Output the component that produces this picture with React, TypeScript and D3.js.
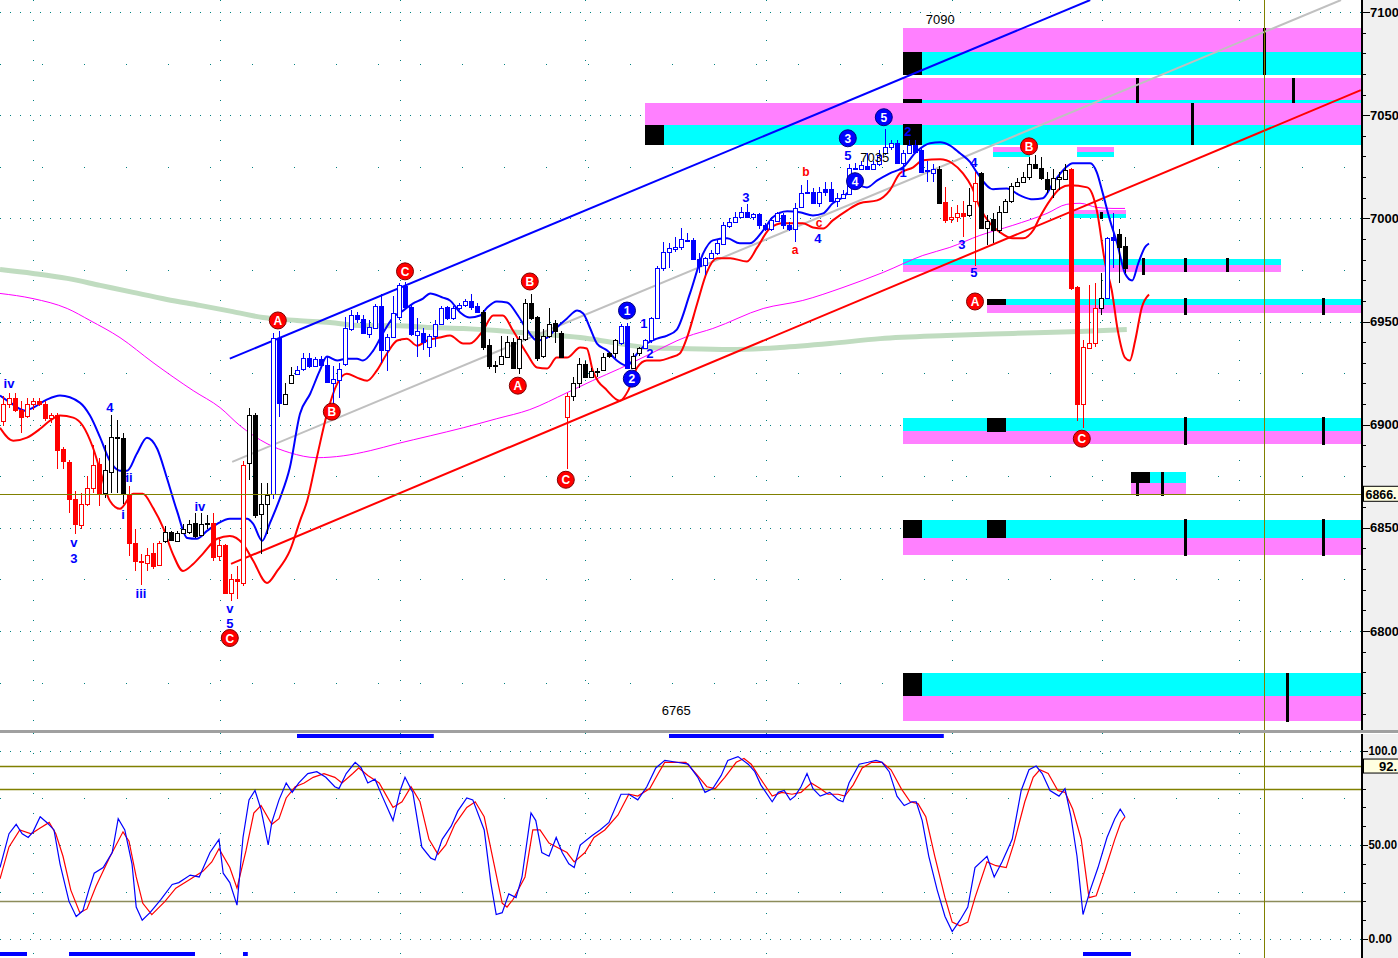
import React from 'react';
import * as d3 from 'd3';

// ---------------- DATA ----------------
// OHLC per bar (bar index = position in array)
const candles: [number, number, number, number][] = [
  [6902,6914,6899.5,6910],[6910,6915.5,6908,6913],[6913,6915.5,6906,6907],[6907,6911.5,6896,6903.5],[6904,6913,6903,6910],
  [6910,6913,6907,6911.5],[6911.5,6913,6909,6910],[6910,6911.5,6902,6903],[6903,6905.5,6901,6904.5],[6904.5,6905.5,6878.5,6887.5],
  // 10
  [6888,6889,6878.5,6882.5],[6882,6883,6857,6864],[6864,6868,6847,6852],[6851.5,6867,6849.5,6861.5],[6861.5,6875,6860.5,6869.5],
  [6869.5,6890,6867,6880.5],[6881,6884,6860.5,6867],[6867,6890,6864.5,6878],[6877,6904.5,6867,6894],[6894,6902.5,6867,6893.5],
  // 20
  [6893.5,6896,6861.5,6866.5],[6866.5,6870.5,6836.5,6842.5],[6842.5,6849.5,6829,6834],[6834,6837.5,6822.5,6833.5],[6833,6840,6829,6837],
  [6838,6842.5,6830,6831.5],[6832,6843.5,6831.5,6842.5],[6843.5,6851,6842.5,6848],[6848,6848.5,6843.5,6844],[6843.5,6848.5,6843,6847.5],
  // 30
  [6847.5,6852,6847,6849.5],[6848,6854,6847,6852],[6852.5,6857,6845,6846],[6846.5,6857,6846,6852],[6852.5,6856,6849.5,6852],
  [6852.5,6857,6834,6836],[6836.5,6844.5,6834,6841.5],[6841.5,6842,6818,6818.5],[6818.5,6827.5,6814.5,6825],[6825,6831.5,6815.5,6824],
  // 40
  [6823.5,6882.5,6822,6880.5],[6881.5,6908,6873,6904.5],[6904.5,6905.5,6855,6856],[6856.5,6871.5,6837.5,6861.5],[6861.5,6871.5,6847,6866],
  [6866.5,6944.5,6864,6942],[6942,6945.5,6903.5,6910.5],[6910,6920,6909.5,6915],[6920,6928,6919.5,6924],[6924.5,6928.5,6924,6926.5],
  // 50
  [6927,6934.5,6926,6932.5],[6932.5,6934.5,6927.5,6928.5],[6928.5,6933,6928,6932],[6932,6933.5,6928.5,6929],[6929,6933,6920,6920.5],
  [6920,6928.5,6910.5,6922],[6921.5,6930,6913,6927],[6929.5,6952,6928.5,6947],[6946.5,6955.5,6945.5,6953],[6953,6954.5,6949.5,6951],
  // 60
  [6951,6953,6944,6944.5],[6944,6950.5,6942,6947.5],[6947,6958.5,6946.5,6957.5],[6957.5,6963.5,6930,6936],[6936,6944,6926,6942.5],
  [6942.5,6962.5,6942,6954],[6952,6968.5,6950.5,6967.5],[6967,6969,6956.5,6957],[6957,6958,6943,6944],[6943.5,6951.5,6933,6945.5],
  // 70
  [6944.5,6947,6936,6940],[6937.5,6944,6933,6943],[6943,6950.5,6937.5,6949],[6949,6957.5,6948.5,6956.5],[6957,6957.5,6950.5,6951.5],
  [6951.5,6957.5,6950.5,6956.5],[6956.5,6959,6955.5,6958],[6958,6961,6957,6960],[6960,6963.5,6955.5,6957],[6957.5,6959,6954,6954.5],
  // 80
  [6954.5,6955.5,6936,6937.5],[6938.5,6941.5,6927,6928.5],[6929,6931,6925,6928.5],[6929.5,6943,6929,6933.5],[6933,6943,6932.5,6940],
  [6940,6942,6927,6927.5],[6927.5,6943,6924.5,6941.5],[6941.5,6961,6940.5,6959],[6959,6963.5,6950.5,6951.5],[6952,6952.5,6931,6932.5],
  // 90
  [6933.5,6946.5,6932.5,6943],[6943,6956.5,6942,6949],[6949.5,6950.5,6939.5,6945.5],[6944.5,6945.5,6932.5,6933],[6903.5,6915.5,6878.5,6914],
  [6914,6923,6911.5,6920],[6920,6932.5,6918,6929.5],[6929.5,6931,6922.5,6923],[6923,6927.5,6922.5,6926],[6926,6927.5,6923,6926],
  // 100
  [6926.5,6934.5,6926,6933],[6934.5,6935,6932.5,6933.5],[6934.5,6941.5,6932.5,6941],[6939.5,6949,6938.5,6948],[6948,6949.5,6927,6927.5],
  [6927.5,6934.5,6927,6933.5],[6934.5,6937.5,6933.5,6937],[6937,6941.5,6936.5,6941],[6941,6952,6939.5,6951.5],[6951.5,6977,6951,6976],
  // 110
  [6976,6988.5,6974.5,6983.5],[6983.5,6988,6976,6985.5],[6985,6991,6983.5,6986],[6986,6995.5,6984.5,6990],[6989.5,6993,6988.5,6989],
  [6989.5,6990.5,6980,6980.5],[6980.5,6983,6973.5,6977],[6977.5,6981.5,6972.5,6981],[6981,6984.5,6980.5,6983],[6983,6989.5,6982,6988],
  // 120
  [6987.5,6998,6987,6997],[6996.5,7000,6995.5,6998],[6998,7003,6997.5,7000.5],[7000.5,7005.5,7000,7003],[7003,7007,7000,7000.5],
  [7000.5,7002.5,6999,7002],[7002,7002.5,6995,6997],[6997,6997.5,6994,6995],[6995,7000.5,6994,6999],[6998.5,7003,6998,7002.5],
  // 130
  [7001.5,7002.5,6995,6997],[6997,6998,6994,6995],[6995,7007.5,6988.5,7005],[7005.5,7016,7005,7012.5],[7013,7018.5,7012,7012.5],
  [7013,7014.5,7007,7007.5],[7007.5,7015,7005.5,7013],[7014,7017.5,7011,7013],[7014,7017.5,7008,7008.5],[7008.5,7012.5,7005.5,7010],
  // 140
  [7010,7013.5,7009.5,7012],[7012,7026.5,7011.5,7024.5],[7024.5,7027,7023.5,7024],[7024,7028,7023.5,7026],[7025.5,7031.5,7023.5,7024],
  [7024,7028,7023.5,7026.5],[7026.5,7033,7025.5,7030.5],[7031.5,7043.5,7030.5,7034.5],[7034.5,7038,7033,7036.5],[7036.5,7038,7026.5,7027],
  // 150
  [7027,7033,7024.5,7031.5],[7031.5,7038,7031,7035.5],[7035.5,7038,7031.5,7032],[7033,7034.5,7022,7022.5],[7023.5,7028,7017.5,7023],
  [7022,7026.5,7017.5,7024],[7024,7025.5,7007,7007.5],[7008,7015,6997.5,6999],[6999.5,7005.5,6997.5,7000.5],[7000.5,7006.5,6998,7002.5],
  // 160
  [7002.5,7008.5,6991,7001],[7001.5,7014.5,7000.5,7006.5],[7008.5,7022.5,6977,7017],[7022,7022.5,6995,6995.5],[6995.5,7001.5,6987,6998.5],
  [6999.5,7002.5,6988,6994.5],[6994.5,7006,6993,7003],[7003,7009.5,7002.5,7008.5],[7008.5,7017,7007.5,7015.5],[7015.5,7019.5,7015,7017.5],
  // 170
  [7017.5,7022.5,7017,7020],[7020,7029.5,7018.5,7026.5],[7026.5,7030.5,7024,7024.5],[7024.5,7029.5,7018.5,7019.5],[7019,7022.5,7012.5,7014],
  [7014,7024,7010,7019.5],[7019,7022.5,7013.5,7020],[7019,7026.5,7018.5,7023.5],[7024,7024.5,6965.5,6966],[6966.5,6967,6902,6910],
  // 180
  [6910,6941,6898.5,6937.5],[6937,6967.5,6936.5,6939.5],[6939.5,6968.5,6937.5,6956.5],[6956.5,6973.5,6953,6961.5],[6961.5,6991,6961,6990.5],
  [6991,7002.5,6976,6989.5],[6992.5,6995,6968.5,6986],[6986.5,6991,6973.5,6976],
];

// wave-degree colour code per bar, run-length encoded
const waveRuns: [string, number][] = [
  ['r',17],['k',4],['r',6],['k',8],['r',6],['k',4],['b',2],['k',2],['b',31],['k',14],['r',1],['k',8],
  ['b',2],['k',2],['b',49],['k',1],['r',4],['k',1],['r',1],['k',15],['r',5],['k',1],['b',2],['k',2],
];

// upper (blue) and lower (red) envelope lines: [bar, price]
const upperLine: [number, number][] = [
  [-0.5,6914.1],[1.2,6910.7],[3.7,6906.8],[5,6908.2],[7.3,6912.1],[9.5,6914.1],[12.8,6910.7],[14.5,6904.4],[16.2,6893.7],[17.8,6882.5],
  [19.5,6877.7],[20.7,6877.7],[22.3,6885.9],[24,6893.7],[25.7,6888.3],[27.3,6874.3],[29,6858.2],[30.7,6845.1],[32.3,6844.7],[34,6848.5],
  [35.7,6851.9],[37.8,6854.4],[40.7,6854.4],[41.7,6851.9],[43.2,6843.7],[44.5,6852.4],[46.2,6864.6],[47.8,6879.1],[49.5,6905.3],[51.2,6915],
  [52.8,6926.2],[54,6933],[55.7,6931.1],[57.3,6932],[59,6932],[60,6931.1],[61.7,6935.9],[63.3,6944.2],[65,6951.9],[66.7,6955.3],
  [68.3,6958.7],[70,6961.1],[71.2,6963.6],[73.3,6961.6],[74.5,6960.2],[76.2,6954.4],[77.8,6951.9],[79.5,6952.9],[80.7,6956.8],[82.3,6959.7],
  [84,6959.2],[85.7,6953.4],[87.3,6946.1],[89,6940.8],[90.7,6942.2],[92.3,6947.1],[94,6951.5],[95.7,6955.3],[96.7,6953.9],[97.8,6947.1],
  [99,6939.3],[100.7,6935.9],[102.3,6931.1],[104,6928.6],[105.7,6934.5],[107.3,6939.3],[109,6941.7],[110.7,6943.2],[112.3,6946.1],[114.5,6963.6],
  [116.7,6983],[118.3,6989.3],[120.7,6990.3],[122.8,6987.9],[124.5,6987.9],[126.7,6994.2],[128.3,7000.5],[130.7,7003.4],[132.8,7002.9],[135,7001.4],
  [136.7,7002.4],[138.3,7007.3],[140,7010.2],[142.3,7016],[144,7015],[145.7,7018.4],[147.8,7021.8],[150,7024.7],[152.3,7032.5],[154.5,7036.4],
  [156.2,7036.9],[157.8,7035.4],[159.5,7031.5],[161.2,7027.2],[162.3,7022.3],[165,7014.1],[167.3,7014.5],[169.5,7011.1],[171.7,7009.2],[173.3,7009.7],
  [175,7017],[177,7024.3],[178.3,7026.7],[181.2,7026.7],[182.3,7022.3],[183.3,7012.1],[184.5,6999],[185.7,6987.8],[187,6973.3],[188.2,6969.9],
  [189.2,6978.1],[190.3,6985.9],[191,6987.8],
];
const lowerLine: [number, number][] = [
  [-0.5,6898.5],[1.7,6892.2],[4,6893.7],[6.2,6898],[7.8,6901.9],[9.5,6904.4],[11.7,6903.4],[13.3,6899.5],[15,6888.8],[16.2,6877.7],
  [17.8,6863.1],[19.5,6859.2],[21.7,6866.5],[23.3,6866.5],[25,6859.7],[26.7,6850],[28.3,6837.4],[30,6829.1],[31.7,6832.5],[33.3,6837.4],
  [35.7,6844.7],[37.8,6846.1],[40,6842.2],[41.7,6834],[44,6823.3],[45.7,6829.1],[47.8,6838.8],[49.5,6853.4],[50.7,6863.1],[52.3,6884],
  [54,6905.3],[55.7,6919.9],[57.3,6924.7],[59,6922.8],[60.7,6921.3],[62.3,6926.2],[64,6934.5],[65.7,6940.8],[67.3,6941.7],[69,6938.3],
  [70.7,6940.8],[72.8,6942.2],[74.5,6943.2],[76.7,6939.3],[77.8,6939.3],[80,6945.6],[81.7,6952.9],[83.3,6952.9],[85,6945.6],[87.3,6934.5],
  [89,6927.7],[90.7,6927.2],[92.3,6932.5],[94,6932.5],[96.2,6937.4],[97.3,6936.9],[98.3,6926.2],[100.7,6916.5],[102.8,6911.6],[104.2,6916.5],
  [105.7,6927.7],[107.3,6931.1],[109.5,6931.1],[111.2,6932.5],[112.8,6934.5],[114,6942.2],[115.7,6958.7],[117.3,6973.8],[119,6980.6],[121.2,6980.6],
  [124,6979.1],[125.7,6985.9],[127.8,6995.1],[130,6997.6],[133.3,6997.6],[135,6995.6],[136.7,6995.1],[138.3,6999],[140.7,7003.9],[142.8,7007.3],
  [145.7,7008.7],[147.8,7013.6],[149.5,7021.8],[151.7,7024.7],[153.3,7028.1],[156.2,7028.6],[158.2,7026.7],[160,7021.8],[161.5,7015],[162.8,7005.3],
  [164.5,6997.6],[166.2,6993.2],[168.3,6990.3],[170,6990.3],[171.7,6994.2],[172.8,7000.5],[174.5,7008.7],[176.2,7014.5],[177.8,7016],[180.7,7015],
  [181.5,7012.1],[182.3,7003.9],[183.7,6978.1],[184.8,6965],[185.8,6945.6],[187,6932.5],[187.8,6931.1],[188.7,6940.8],[189.8,6956.8],[191,6963.1],
];
// thin magenta moving average
const maFast: [number, number][] = [
  [-0.5,6963.6],[5,6961.1],[10.7,6956.3],[14.5,6950.5],[19.5,6942.2],[25,6930.1],[31.7,6916.5],[36.2,6908.2],[39.5,6899.5],[44,6890.8],
  [47.8,6886.4],[52.3,6884],[56.7,6884.9],[61.2,6887.4],[65.7,6890.8],[71.2,6894.6],[76.7,6898.5],[82.3,6902.9],[87.8,6907.3],[94,6915.5],
  [98.3,6921.4],[102.8,6927.2],[107.3,6933.5],[114,6942.7],[118.3,6946.6],[126.7,6956.3],[133.3,6960.2],[140,6966.5],[146.7,6973.8],[153.3,6982],
  [157.8,6985.9],[162.8,6991.7],[168.3,6996.6],[174,7002.4],[177.3,7006.8],[179.5,7007.3],[182.3,7005.3],[185,7004.8],[187,7004.8],
];
// thick light-green long moving average
const maSlow: [number, number][] = [
  [-0.5,6975.2],[5,6973.3],[10.7,6970.9],[16.2,6967.5],[21.7,6964.1],[27.3,6960.7],[32.8,6957.8],[38.3,6954.8],[43.3,6951.9],[49,6950.5],
  [54.5,6949.5],[60,6948],[65.7,6948],[71.2,6947.1],[76.7,6946.6],[82.3,6945.6],[87.8,6944.2],[96.2,6942.2],[101.7,6939.8],[107.3,6937.4],
  [112.8,6936.9],[121.2,6936.4],[129.5,6937.4],[137.8,6939.3],[146.2,6941.7],[157.3,6943.2],[168.3,6944.2],[179.5,6945.2],[187.3,6946.1],
];

// straight trend lines: [[bar, price], [bar, price]]
const channelTop: [number, number][] = [[37.8,6932],[181.2,7105.8]];
const channelMid: [number, number][] = [[38.2,6882],[223,7105.8]];
const channelBot: [number, number][] = [[38,6832.5],[226.3,7062.1]];

// price zones: [fromBar, toBar, top, mid, bottom, magentaOnTop]
const zones: [number, number, number, number, number, boolean][] = [
  [150,227,7092.2,7080.6,7069.4,true],
  [150,227,7067.9,7057.3,7055.8,true],
  [107,227,7055.8,7045.1,7035.4,true],
  [165,171.2,7034.4,7032,7029.6,true],
  [179,185.2,7034.4,7032,7029.6,true],
  [178.3,187.2,7004,7002,7000,true],
  [150,213,6980.1,6977.2,6974,false],
  [164,227,6961.1,6957.8,6953.9,false],
  [150,227,6903.4,6897.1,6890.8,false],
  [188,197.2,6877.2,6871.8,6866.5,false],
  [150,227,6853.9,6845.1,6836.9,false],
  [150,227,6779.6,6768.4,6756.3,false],
];
// zone start blocks: [fromBar, toBar, hi, lo]
const zoneBlocks: [number, number, number, number][] = [
  [150,153.2,7080.6,7069.4],[150,153.2,7057.8,7055.8],[107,110.2,7045.1,7035.4],[150,153.2,7045.6,7035.4],
  [164,167.2,6961.1,6957.8],[164,167.2,6903.4,6896.6],[188,191.2,6877.2,6871.5],[150,153.2,6853.9,6845.1],
  [164,167.2,6853.9,6845.1],[150,153.2,6779.6,6768.4],
];
// zone time markers: [bar, hi, lo]
const zoneMarks: [number, number, number][] = [
  [210.17,7092.2,7069.4],[189,7067.9,7055.8],[215,7067.9,7055.8],[198.17,7055.8,7035.4],[183,7003,6999.5],
  [190,6980.6,6972.5],[197,6980.6,6974],[204,6980.6,6974],[197,6961.6,6953],[220,6961.6,6953],
  [197,6903.9,6890.3],[220,6903.9,6890.3],[189,6871.8,6865.5],[193.17,6877.2,6865.5],[197,6854.4,6836.4],
  [220,6854.4,6836.4],[214,6779.6,6756],
];

// Elliott wave labels
const circleLabels: [string, string, number, number][] = [
  ['A','r',45.8,6950.5],['B','r',54.8,6906.3],['C','r',67,6974.3],['A','r',85.8,6918.9],['B','r',87.8,6969.4],
  ['C','r',93.8,6873.3],['C','r',37.8,6796.6],['A','r',162,6959.7],['B','r',171,7034.9],['C','r',179.8,6893.2],
  ['1','b',104,6955.3],['2','b',104.8,6922.3],['3','b',140.8,7038.8],['5','b',146.8,7049],['4','b',142,7018],
];
const waveTexts: [string, string, number, number][] = [
  ['iv','b',1,6919.9],['4','b',17.8,6908.2],['ii','b',21,6874.3],['i','b',20,6856.3],['v','b',11.8,6842.8],['3','b',11.8,6835],
  ['iii','b',23,6818],['iv','b',32.8,6860.2],['v','b',37.8,6810.8],['5','b',37.8,6803.4],['1','b',106.8,6949],['2','b',107.8,6934.5],
  ['3','b',123.8,7010.2],['4','b',135.8,6990],['5','b',140.8,7030.6],['1','b',150,7022.3],['2','b',150.8,7042.2],['4','b',161.8,7027.2],
  ['3','b',159.8,6987.4],['5','b',161.8,6973.8],['b','r',133.8,7022.3],['c','r',136,6997.6],['a','r',132,6984.5],
];
const priceNotes: [string, number, number][] = [['7090',156.2,7096.6],['7035',145.3,7029.6],['6765',112.2,6761.6]];

// stochastic %K (blue) and %D (red): [bar, value]
const stochK: [number, number][] = [
  [-0.5,38],[1,56],[2.2,61],[3.2,56],[4.2,54],[5,57],[6.2,65],[7.3,62],[8.5,58],[9.5,40],[11,20],[12.2,12],[13.3,15],[14.3,26],[15.2,35],
  [16.7,38],[18.2,46],[19.2,64],[20.3,58],[21.5,40],[22.2,17],[23.2,10],[24.5,14],[26.3,21],[28.2,29],[29.3,30],[31.2,34],[32.7,33],[34.5,46],
  [36,53],[36.7,35],[37.8,30],[39,18],[40,54],[41,74],[42,79],[43,69],[44.2,50],[44.8,62],[46,74],[47.2,83],[48.2,78],[49.3,83],[50.8,88],
  [52.3,89],[53.8,86],[55.3,81],[56,80],[57.2,88],[58.7,94],[59.7,91],[60.8,83],[62,85],[63.2,76],[65,63],[66.2,79],[67,86],[68.3,78],
  [69.8,49],[71.3,43],[72,42],[73.2,53],[74.7,60],[75.8,68],[77.3,75],[78.3,74],[80.2,58],[81.3,30],[82.2,13],[83.2,14],[84.3,24],[85.5,22],
  [86.5,33],[88,67],[88.8,63],[89.8,46],[91,44],[92.2,54],[93.2,46],[94.3,40],[95.2,38],[96.2,50],[98.2,55],[99.5,58],[101,62],[103,77],
  [104.3,77],[105.8,74],[107.3,81],[108.8,91],[110.3,95],[112.3,94],[114.2,93],[115.8,86],[117,78],[118.3,80],[119.7,87],[120.8,95],[122.5,97],
  [124.2,93],[125.3,89],[126.3,82],[128.2,73],[129.2,78],[130.2,79],[131.2,74],[132,76],[133,81],[134,88],[135,80],[136.2,76],[137.8,78],
  [139.2,74],[140,73],[141,83],[142.7,93],[144.2,94],[145.5,95],[146.5,94],[147.7,89],[149,76],[150.2,71],[151.5,73],[152.2,73],[153.2,63],
  [154.3,44],[155.7,26],[157,12],[158.2,4],[159.5,10],[160.8,17],[162,38],[164,44],[165.2,33],[166.5,41],[168.2,53],[169.7,79],[171,90],
  [172.2,92],[173.2,88],[174.5,79],[176,76],[177,80],[178,65],[179,44],[180,13],[181.2,26],[182.5,38],[184,54],[185.3,64],[186.2,69],[187,65],
];
const stochD: [number, number][] = [
  [-0.5,32],[1,49],[2.8,58],[4.7,56],[6.2,59],[7.7,62],[8.8,56],[10,44],[11.3,26],[12.8,14],[14,16],[15.5,28],[17.7,43],[20,57],[21,52],
  [22.2,33],[23.3,19],[24.8,13],[27,20],[28.8,27],[30.8,31],[33.3,36],[34.8,41],[36,48],[37.8,38],[39,27],[40.5,47],[41.8,67],[43,71],
  [44.8,61],[46,64],[47.2,75],[48.7,81],[50.2,83],[51.7,86],[53.5,88],[55.3,86],[56.5,83],[58.3,88],[59.3,91],[60.8,87],[62.7,83],[65,70],
  [66.5,73],[68,81],[69.5,73],[71,53],[72.5,45],[73.8,50],[75.3,61],[77.3,70],[78.7,73],[80.2,65],[81.7,42],[83.2,19],[84,17],[85,21],
  [87,33],[88.3,58],[89.5,58],[91,51],[92.8,48],[94,46],[95.2,41],[97,46],[98.5,54],[100.3,58],[102.5,66],[104.3,77],[105.8,76],[107.8,80],
  [109.2,88],[110.3,94],[112,94],[113.8,94],[115.5,88],[117.3,81],[118.7,80],[120.3,86],[122.2,94],[123.5,96],[124.7,93],[126.3,85],[128.2,76],
  [129.8,78],[131.5,77],[133,78],[134.7,83],[136.2,80],[137.5,77],[139.2,77],[140.3,76],[141.7,82],[143.2,91],[144.8,94],[146.5,94],[148,90],
  [149.7,80],[151.2,73],[152.5,72],[153.8,65],[155.3,44],[157,22],[158.2,9],[159.5,7],[160.8,9],[162,22],[164,41],[165.5,39],[167.2,38],
  [168.5,51],[170.3,73],[171.7,86],[172.8,90],[174.2,88],[175.8,79],[177,78],[178.3,69],[179.7,53],[181,22],[182.2,23],[183.7,37],[185.3,53],
  [186.3,62],[187,65],
];
// signal strips in the oscillator pane: [fromBar, toBar]
const stripsTop: [number, number][] = [[49,71.8],[111,156.8]];
const stripsBottom: [number, number][] = [[-0.5,4],[11,32],[40,40.8],[180,188]];

const priceTicks = [6800, 6850, 6900, 6950, 7000, 7050, 7100];
const oscTicks: [number, string][] = [[100,'100.0'],[50,'50.00'],[0,'0.00']];
const oscLevels = [92, 80, 20];
const gridBars = [5, 36.2, 66.2, 97, 127.2, 158.2, 183.2, 206];
const cursorBar = 210.17;
const cursorPrice = 6866.5;
const cursorOsc = 92;

// ---------------- CHART ----------------
const W = 1398, H = 958, PR = 1362, MB = 729, LT = 733;
const FONT = 'Liberation Sans, Arial, sans-serif';
const COL: Record<string, string> = { r: '#ff0000', b: '#0000ff', k: '#000000' };

export default function App() {
  const x = d3.scaleLinear().domain([0, 190]).range([3, 1143]);
  const y = d3.scaleLinear().domain([6800, 7100]).range([631, 12]);
  const ys = d3.scaleLinear().domain([0, 100]).range([939, 751]);
  const smooth = d3.line<[number, number]>().x(d => x(d[0])).y(d => y(d[1])).curve(d3.curveMonotoneX);
  const straight = d3.line<[number, number]>().x(d => x(d[0])).y(d => y(d[1]));
  const osc = d3.line<[number, number]>().x(d => x(d[0])).y(d => ys(d[1]));

  const wave: string[] = [];
  waveRuns.forEach(([c, n]) => { for (let k = 0; k < n; k++) wave.push(c); });

  const minor = d3.range(6760, 7101, 10);
  const oscMinor = d3.range(0, 101, 10);
  const gridDash = '1,9';

  return (
    <svg width={W} height={H} style={{ position: 'absolute', left: 0, top: 0, display: 'block', background: '#fff' }}
      fontFamily={FONT}>
      <defs>
        <clipPath id="mainClip"><rect x={0} y={0} width={PR} height={MB} /></clipPath>
        <clipPath id="lowClip"><rect x={0} y={LT} width={PR} height={H - LT} /></clipPath>
      </defs>
      <rect x={0} y={0} width={W} height={H} fill="#fff" />

      {/* ---------- main pane ---------- */}
      <g clipPath="url(#mainClip)">
        {/* grid */}
        {priceTicks.map(p => (
          <line key={'g' + p} x1={0} x2={PR} y1={Math.round(y(p)) + 0.5} y2={Math.round(y(p)) + 0.5}
            stroke="#008080" strokeDasharray={gridDash} />
        ))}
        {priceTicks.map(p => (
          <line key={'h' + p} x1={0} x2={PR} y1={Math.round(y(p - 25)) + 0.5} y2={Math.round(y(p - 25)) + 0.5}
            stroke="#008080" strokeDasharray="1,41" />
        ))}
        {gridBars.map(b => (
          <line key={'v' + b} x1={Math.round(x(b)) + 0.5} x2={Math.round(x(b)) + 0.5} y1={0} y2={MB}
            stroke="#008080" strokeDasharray="1,19" />
        ))}

        {/* zones */}
        {zones.map(([a, b, t, m, bt, magTop], k) => (
          <g key={'z' + k} shapeRendering="crispEdges">
            <rect x={x(a)} width={x(b) - x(a)} y={y(t)} height={y(m) - y(t)} fill={magTop ? '#ff80ff' : '#00ffff'} />
            <rect x={x(a)} width={x(b) - x(a)} y={y(m)} height={y(bt) - y(m)} fill={magTop ? '#00ffff' : '#ff80ff'} />
          </g>
        ))}
        {zoneBlocks.map(([a, b, hi, lo], k) => (
          <rect key={'zb' + k} x={x(a)} width={x(b) - x(a)} y={y(hi)} height={y(lo) - y(hi)} fill="#000" shapeRendering="crispEdges" />
        ))}
        {zoneMarks.map(([b, hi, lo], k) => (
          <rect key={'zm' + k} x={Math.round(x(b)) - 1} width={3} y={y(hi)} height={y(lo) - y(hi)} fill="#000" shapeRendering="crispEdges" />
        ))}

        {/* moving averages & trend lines */}
        <path d={smooth(maSlow) || ''} fill="none" stroke="#c0dcc0" strokeWidth={5} />
        <path d={smooth(maFast) || ''} fill="none" stroke="#ff00ff" strokeWidth={1} />
        <path d={straight(channelMid) || ''} fill="none" stroke="#c0c0c0" strokeWidth={2} />
        <path d={straight(channelTop) || ''} fill="none" stroke="#0000ff" strokeWidth={2} />
        <path d={straight(channelBot) || ''} fill="none" stroke="#ff0000" strokeWidth={2} />
        <path d={smooth(upperLine) || ''} fill="none" stroke="#0000ff" strokeWidth={2} />
        <path d={smooth(lowerLine) || ''} fill="none" stroke="#ff0000" strokeWidth={2} />

        {/* candles */}
        <g shapeRendering="crispEdges">
          {candles.map((d, i) => {
            const [o, h, l, c] = d;
            const col = COL[wave[i]];
            const cx = Math.round(x(i));
            const top = Math.round(y(Math.max(o, c)));
            const bot = Math.round(y(Math.min(o, c)));
            const up = c >= o;
            return (
              <g key={'c' + i}>
                <line x1={cx + 0.5} x2={cx + 0.5} y1={y(h)} y2={y(l)} stroke={col} />
                <rect x={cx - 1.5} y={top + 0.5} width={4} height={Math.max(bot - top, 1)}
                  fill={up ? '#fff' : col} stroke={col} />
              </g>
            );
          })}
        </g>

        {/* labels */}
        {waveTexts.map(([t, c, b, p], k) => (
          <text key={'wt' + k} x={x(b)} y={y(p)} textAnchor="middle" dominantBaseline="central"
            fontSize={c === 'r' ? 12 : 13} fontWeight="bold" fill={COL[c]}>{t}</text>
        ))}
        {priceNotes.map(([t, b, p], k) => (
          <text key={'pn' + k} x={x(b)} y={y(p)} textAnchor="middle" dominantBaseline="central"
            fontSize={13} fill="#000">{t}</text>
        ))}
        {circleLabels.map(([t, c, b, p], k) => (
          <g key={'cl' + k}>
            <circle cx={x(b)} cy={y(p)} r={8.5} fill={c === 'r' ? '#ff0000' : '#0000ff'} stroke={c === 'r' ? '#800000' : '#000080'} />
            <text x={x(b)} y={y(p) + 0.5} textAnchor="middle" dominantBaseline="central" fontSize={12}
              fontWeight="bold" fill="#fff">{t}</text>
          </g>
        ))}

        {/* cursor */}
        <line x1={0} x2={PR} y1={Math.round(y(cursorPrice)) + 0.5} y2={Math.round(y(cursorPrice)) + 0.5} stroke="#808000" />
      </g>

      {/* ---------- oscillator pane ---------- */}
      <g clipPath="url(#lowClip)">
        {oscTicks.map(([v]) => (
          <line key={'og' + v} x1={0} x2={PR} y1={Math.round(ys(v)) + 0.5} y2={Math.round(ys(v)) + 0.5}
            stroke="#008080" strokeDasharray={gridDash} />
        ))}
        {[75, 25].map(v => (
          <line key={'oh' + v} x1={0} x2={PR} y1={Math.round(ys(v)) + 0.5} y2={Math.round(ys(v)) + 0.5}
            stroke="#008080" strokeDasharray="1,41" />
        ))}
        {gridBars.map(b => (
          <line key={'ov' + b} x1={Math.round(x(b)) + 0.5} x2={Math.round(x(b)) + 0.5} y1={LT} y2={H}
            stroke="#008080" strokeDasharray="1,19" />
        ))}
        {oscLevels.map((v, k) => (
          <line key={'ol' + v} x1={0} x2={PR} y1={Math.round(ys(v)) + 0.5} y2={Math.round(ys(v)) + 0.5}
            stroke={k === 2 ? '#8c8c5a' : '#808000'} strokeWidth={1.3} />
        ))}
        {stripsTop.map(([a, b], k) => (
          <rect key={'st' + k} x={x(a)} width={x(b) - x(a)} y={734} height={4} fill="#0000ff" />
        ))}
        {stripsBottom.map(([a, b], k) => (
          <rect key={'sb' + k} x={Math.max(0, x(a))} width={x(b) - Math.max(0, x(a))} y={952} height={4} fill="#0000ff" />
        ))}
        <path d={osc(stochD) || ''} fill="none" stroke="#ff0000" strokeWidth={1.2} />
        <path d={osc(stochK) || ''} fill="none" stroke="#0000ff" strokeWidth={1.2} />
      </g>

      {/* vertical cursor across both panes */}
      <line x1={Math.round(x(cursorBar)) + 0.5} x2={Math.round(x(cursorBar)) + 0.5} y1={0} y2={H} stroke="#808000" />

      {/* pane separator */}
      <rect x={0} y={MB + 1} width={W} height={3} fill="#a0a0a0" />

      {/* ---------- right axis ---------- */}
      <rect x={PR} y={0} width={W - PR} height={MB + 1} fill="#f0f0f0" />
      <rect x={PR} y={LT + 1} width={W - PR} height={H - LT} fill="#f0f0f0" />
      <rect x={PR - 1} y={0} width={2} height={MB + 1} fill="#000" />
      <rect x={PR - 1} y={LT + 1} width={2} height={H - LT} fill="#000" />
      {minor.map(p => (
        <line key={'mt' + p} x1={PR + 1} x2={PR + 4} y1={Math.round(y(p)) + 0.5} y2={Math.round(y(p)) + 0.5} stroke="#000" />
      ))}
      {priceTicks.map(p => (
        <g key={'pt' + p}>
          <line x1={PR + 1} x2={PR + 8} y1={Math.round(y(p)) + 0.5} y2={Math.round(y(p)) + 0.5} stroke="#000" />
          <text x={PR + 8} y={y(p)} dominantBaseline="central" fontSize={13} fontWeight="bold" fill="#000">{p}</text>
        </g>
      ))}
      {oscMinor.map(v => (
        <line key={'omt' + v} x1={PR + 1} x2={PR + 4} y1={Math.round(ys(v)) + 0.5} y2={Math.round(ys(v)) + 0.5} stroke="#000" />
      ))}
      {oscTicks.map(([v, t]) => (
        <g key={'ot' + v}>
          <line x1={PR + 1} x2={PR + 6} y1={Math.round(ys(v)) + 0.5} y2={Math.round(ys(v)) + 0.5} stroke="#000" />
          <text x={PR + 6.5} y={ys(v)} dominantBaseline="central" fontSize={12} fontWeight="bold" fill="#000"
            textLength={t.length > 4 ? 28.5 : undefined} lengthAdjust="spacingAndGlyphs">{t}</text>
        </g>
      ))}
      {/* cursor value boxes */}
      <rect x={PR + 1.5} y={y(cursorPrice) - 7.5} width={W - PR} height={15} fill="#ffffe1" stroke="#000" />
      <text x={PR + 3.5} y={y(cursorPrice) + 0.5} dominantBaseline="central" fontSize={13} fontWeight="bold" fill="#000"
        textLength={31} lengthAdjust="spacingAndGlyphs">
        {Math.floor(cursorPrice) + '.'}
      </text>
      <rect x={PR + 1.5} y={ys(cursorOsc) - 7} width={W - PR} height={14} fill="#ffffe1" stroke="#000" />
      <text x={PR + 17} y={ys(cursorOsc) + 0.5} dominantBaseline="central" fontSize={13} fontWeight="bold" fill="#000">
        {Math.floor(cursorOsc) + '.'}
      </text>
    </svg>
  );
}
